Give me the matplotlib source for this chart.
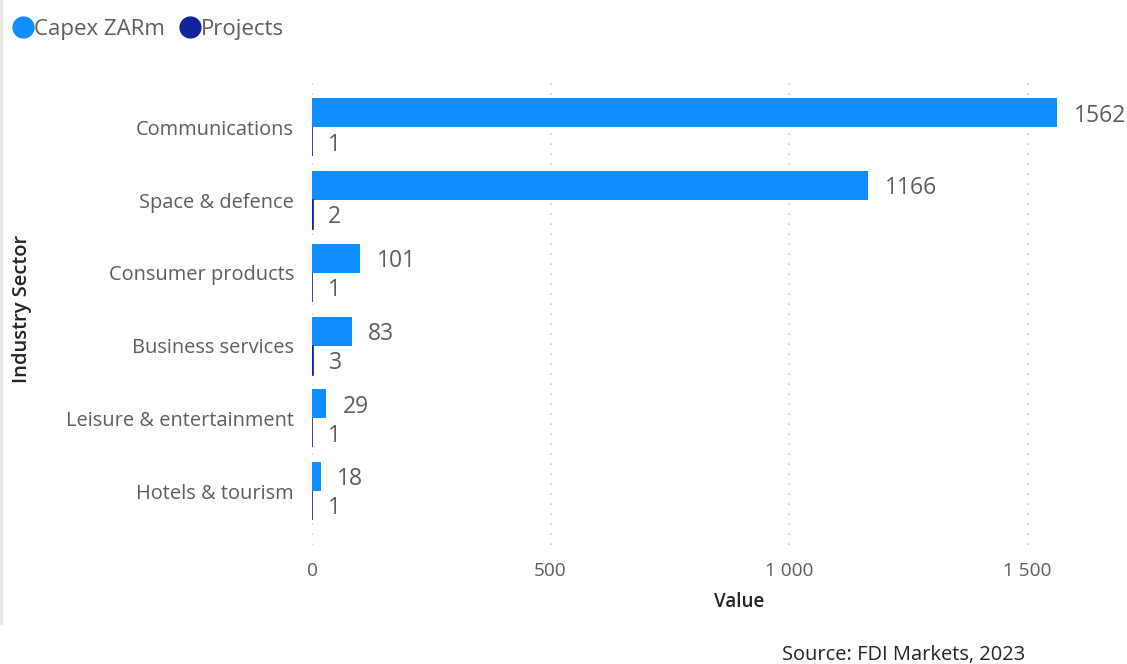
import numpy as np
import matplotlib.pyplot as plt
from matplotlib.lines import Line2D
from matplotlib.ticker import FuncFormatter

plt.rcParams['font.family'] = ['Open Sans', 'DejaVu Sans']

sectors = ['Communications', 'Space & defence', 'Consumer products',
           'Business services', 'Leisure & entertainment', 'Hotels & tourism']
capex = [1562, 1166, 101, 83, 29, 18]
projects = [1, 2, 1, 3, 1, 1]

capex_col = '#118DFF'
proj_col = '#12239E'
label_col = '#605E5C'

fig = plt.figure(figsize=(11.27, 6.64), dpi=100)
ax = fig.add_axes([312/1127, 119/664, (1061-312)/1127, (584-119)/664])

y = np.arange(len(sectors))
h = 0.4
ax.barh(y - h/2, capex, height=h, color=capex_col, zorder=2)
ax.barh(y + h/2, projects, height=h, color=proj_col, edgecolor=proj_col, linewidth=1.2, zorder=2)

# value labels next to each bar
for yi, c, p in zip(y, capex, projects):
    ax.annotate(str(c), (c, yi - h/2), xytext=(12, -2), textcoords='offset points',
                va='center', ha='left', fontsize=16.5, color=label_col, annotation_clip=False)
    ax.annotate(str(p), (p, yi + h/2), xytext=(11, -2), textcoords='offset points',
                va='center', ha='left', fontsize=16.5, color=label_col, annotation_clip=False)

ax.set_xlim(0, 1570)
ax.set_ylim(len(sectors) - 1 + 0.74, -0.65)
ax.set_xticks([0, 500, 1000, 1500])
ax.xaxis.set_major_formatter(FuncFormatter(lambda v, pos: f'{int(v):,}'.replace(',', ' ')))
ax.set_yticks(y)
ax.set_yticklabels(sectors)
ax.tick_params(axis='x', length=0, labelsize=13.7, colors=label_col, pad=12)
ax.tick_params(axis='y', length=0, labelsize=14.4, colors=label_col, pad=13)

ax.grid(axis='x', color='#C8C6C4', linestyle=(0, (1, 5)), linewidth=1.2, zorder=0)
for s in ax.spines.values():
    s.set_visible(False)

ax.set_xlabel('Value', fontsize=13.5, color='#252423', fontweight='semibold')
ax.xaxis.set_label_coords((739-312)/(1061-312), -(592-545)/(545-80))
fig.text(22/1127, 1 - 309/664, 'Industry Sector', rotation=90, ha='center', va='center',
         fontsize=14.5, color='#252423', fontweight='semibold')

handles = [Line2D([], [], marker='o', linestyle='', markersize=15, color=capex_col),
           Line2D([], [], marker='o', linestyle='', markersize=15, color=proj_col)]
fig.legend(handles, ['Capex ZARm', 'Projects'], loc='upper left', bbox_to_anchor=(-0.012, 1.0),
           ncol=2, frameon=False, fontsize=16, handletextpad=-0.3, columnspacing=0.3,
           labelcolor=label_col, borderaxespad=0.45, handlelength=1.6)

fig.text(1025/1127, 1 - 655/664, 'Source: FDI Markets, 2023', ha='right', va='center',
         fontsize=14.4, color='#252423')

# thin grey edge on the left of the panel
fig.add_artist(Line2D([1/1127, 1/1127], [1, 1 - 623/664], color='#E6E6E6', linewidth=2.5))

fig.savefig('out.png', dpi=100)
